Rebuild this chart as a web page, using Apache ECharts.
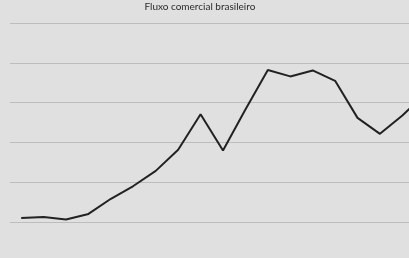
<!DOCTYPE html>
<html><head><meta charset="utf-8">
<script src="https://cdn.jsdelivr.net/npm/echarts@6/dist/echarts.min.js"></script>
<style>html,body{margin:0;padding:0;background:#e0e0e0;overflow:hidden;width:409px;height:258px;}#c{width:436px;height:258px;}</style>
</head><body><div id="c"></div>
<script>
const titleText = 'Fluxo comercial brasileiro';
const years = ['2000','2001','2002','2003','2004','2005','2006','2007','2008','2009','2010','2011','2012','2013','2014','2015','2016','2017','2018'];
const tradeFlow = [111, 113, 107, 121, 159, 191, 229, 282, 371, 280, 383, 482, 466, 481, 455, 362, 322, 368, 421];
const yTicks = [100, 200, 300, 400, 500, 600];

const chart = echarts.init(document.getElementById('c'));
chart.setOption({
  backgroundColor: '#e0e0e0',
  animation: false,
  graphic: [{
    type: 'text', left: 144.5, top: 2,
    style: { text: titleText, fontFamily: 'Lato', fontSize: 10, fill: '#2a2a2a' }
  }],
  grid: { left: 10, top: 23, right: 0, height: 199.3 },
  xAxis: {
    type: 'category', data: years, boundaryGap: true,
    axisLine: { show: false }, axisTick: { show: false }, axisLabel: { show: false }
  },
  yAxis: {
    type: 'value', min: yTicks[0], max: yTicks[yTicks.length - 1], interval: 100,
    axisLine: { show: false }, axisTick: { show: false }, axisLabel: { show: false },
    splitLine: { lineStyle: { color: '#bdbdbd', width: 1 } }
  },
  series: [{
    type: 'line', data: tradeFlow, symbol: 'none',
    lineStyle: { color: '#222', width: 2 }
  }]
});
</script></body></html>
